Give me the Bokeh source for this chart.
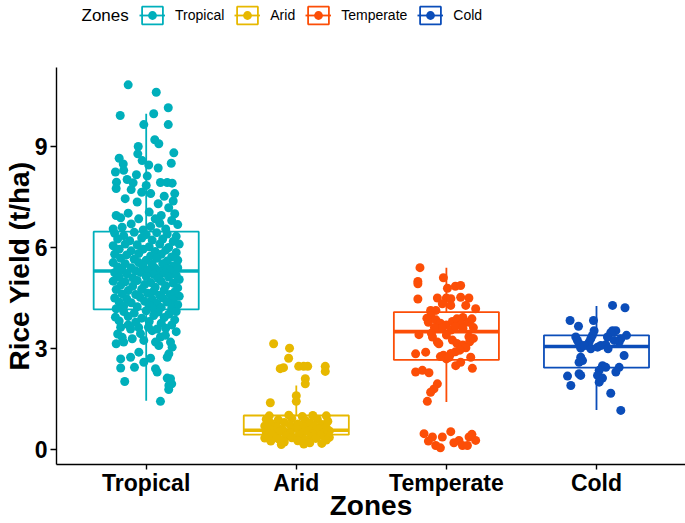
from bokeh.plotting import figure
from bokeh.layouts import column
from bokeh.models import FixedTicker, Legend, LegendItem, ColumnDataSource, Label
from bokeh.embed import file_html
from bokeh.resources import INLINE

# ---------------- data ----------------
zones = ["Tropical", "Arid", "Temperate", "Cold"]
zone_pos = [1, 2, 3, 4]
zone_colors = ["#00AFBB", "#E7B800", "#FC4E07", "#0B4DB9"]
legend_title = "Zones"

# box-plot statistics (t/ha)
box_q1 = [4.16, 0.44, 2.66, 2.43]
box_median = [5.30, 0.57, 3.50, 3.06]
box_q3 = [6.47, 1.01, 4.08, 3.39]
whisker_low = [1.45, 0.15, 1.41, 1.17]
whisker_high = [9.97, 1.90, 5.40, 4.26]

# jittered observations: (horizontal jitter, yield)
tropical_pts = [
    (-0.12, 10.83), (0.067, 10.61), (-0.173, 9.92), (0.05, 9.97), (0.147, 10.15), (-0.016, 9.65),
    (0.147, 9.65), (0.057, 9.20), (0.084, 9.08), (-0.053, 9.0), (0.184, 8.81), (-0.18, 8.65),
    (-0.056, 8.78), (-0.027, 8.58), (0.017, 8.45), (-0.153, 8.48), (0.167, 8.50), (-0.205, 8.24),
    (-0.15, 8.29), (-0.065, 8.16), (0.08, 8.36), (0.007, 8.12), (-0.198, 7.94), (-0.127, 8.02),
    (-0.087, 7.92), (0.095, 7.93), (0.14, 7.93), (0.173, 7.91), (0.0, 7.84),
    (-0.2, 7.75), (-0.1, 7.72), (-0.03, 7.64), (0.03, 7.6), (0.19, 7.6), (0.18, 7.38), (0.12, 7.52),
    (0.08, 7.3), (-0.14, 7.45), (-0.06, 7.35), (0.15, 7.18),
    (-0.2, 6.95), (-0.17, 6.88), (-0.12, 7.02), (-0.05, 6.85), (0.02, 7.05), (0.1, 6.95), (0.19, 7.0),
    (0.17, 6.8), (0.09, 6.72), (-0.1, 6.7), (0.03, 6.62), (-0.16, 6.6), (0.13, 6.55), (0.21, 6.68),
    (-0.02, 6.52), (-0.22, 6.55), (0.06, 6.85),
    (-0.21, 6.42), (-0.15, 6.35), (-0.08, 6.45), (0.0, 6.38), (0.07, 6.44), (0.14, 6.40), (0.2, 6.33),
    (-0.19, 6.25), (-0.11, 6.2), (-0.03, 6.28), (0.04, 6.22), (0.11, 6.25), (0.18, 6.18), (0.22, 6.1),
    (-0.22, 6.05), (-0.14, 6.1), (-0.06, 6.08), (0.02, 6.02), (0.09, 6.1), (0.15, 6.0),
    (-0.18, 5.95), (-0.1, 5.9), (-0.02, 5.95), (0.06, 5.88), (0.13, 5.92), (0.2, 5.85),
    (-0.21, 5.8), (-0.13, 5.78), (-0.05, 5.82), (0.03, 5.75), (0.1, 5.8), (0.17, 5.72),
    (-0.17, 5.68), (-0.08, 5.65), (0.0, 5.62), (0.07, 5.68), (0.14, 5.6), (0.21, 5.62),
    (-0.22, 5.55), (-0.14, 5.52), (-0.05, 5.55), (0.04, 5.5), (0.11, 5.52), (0.18, 5.45),
    (-0.19, 5.42), (-0.1, 5.4), (-0.02, 5.44), (0.06, 5.38), (0.14, 5.36), (0.21, 5.4),
    (-0.16, 5.33), (-0.07, 5.31), (0.01, 5.32), (0.09, 5.3), (0.16, 5.31),
    (-0.21, 5.25), (-0.13, 5.22), (-0.04, 5.26), (0.05, 5.2), (0.12, 5.24), (0.2, 5.18),
    (-0.18, 5.12), (-0.09, 5.1), (0.0, 5.14), (0.08, 5.08), (0.15, 5.12), (0.22, 5.05),
    (-0.22, 5.0), (-0.14, 4.98), (-0.06, 5.02), (0.03, 4.96), (0.1, 5.0), (0.18, 4.94),
    (-0.17, 4.88), (-0.09, 4.85), (-0.01, 4.9), (0.06, 4.82), (0.13, 4.86), (0.21, 4.8),
    (-0.2, 4.75), (-0.12, 4.72), (-0.03, 4.76), (0.05, 4.7), (0.12, 4.74), (0.19, 4.68),
    (-0.16, 4.62), (-0.07, 4.6), (0.01, 4.64), (0.09, 4.58), (0.16, 4.6), (0.22, 4.55),
    (-0.21, 4.5), (-0.13, 4.48), (-0.04, 4.52), (0.04, 4.46), (0.11, 4.5), (0.18, 4.44),
    (-0.18, 4.38), (-0.1, 4.36), (-0.01, 4.4), (0.07, 4.34), (0.14, 4.38), (0.21, 4.3),
    (-0.15, 4.26), (-0.06, 4.24), (0.02, 4.28), (0.1, 4.22), (0.17, 4.2), (-0.2, 4.18), (0.05, 4.17),
    (-0.15, 4.1), (-0.08, 4.05), (0.0, 4.12), (0.08, 4.08), (0.15, 4.02), (0.2, 4.1), (-0.12, 3.95),
    (-0.03, 3.9), (0.05, 3.98), (0.12, 3.92), (0.19, 3.85), (-0.18, 3.82), (-0.07, 3.78), (0.02, 3.8),
    (0.1, 3.75), (0.17, 3.7), (-0.12, 3.7), (0.2, 3.5), (-0.05, 3.62), (0.13, 3.6),
    (-0.205, 3.93), (-0.17, 3.63), (-0.19, 3.43), (-0.16, 3.33), (-0.2, 3.14), (-0.15, 3.19),
    (-0.104, 3.58), (-0.093, 3.29), (-0.038, 3.44), (-0.016, 3.24), (0.015, 3.63), (0.04, 3.53),
    (0.073, 3.58), (0.095, 3.34), (0.128, 3.39), (0.162, 3.19), (0.173, 3.04), (0.151, 2.84),
    (0.14, 2.74), (0.062, 3.19), (0.084, 3.09), (-0.17, 2.69), (-0.104, 2.74), (-0.049, 2.89),
    (-0.17, 2.42), (-0.078, 2.44), (-0.016, 2.59), (0.029, 2.71), (0.062, 2.40), (0.073, 2.30),
    (0.14, 2.12), (0.162, 2.10), (0.151, 1.90), (-0.143, 2.02), (0.095, 1.43), (0.15, 1.78), (0.17, 1.95),
]

arid_pts = [
    (-0.151, 3.14), (-0.045, 3.01), (-0.051, 2.71), (-0.107, 2.40), (-0.085, 2.43), (0.016, 2.47),
    (0.049, 2.47), (0.076, 2.47), (0.193, 2.47), (0.193, 2.32), (0.06, 2.10), (0.06, 1.95),
    (0.0, 1.60), (0.0, 1.43), (-0.173, 1.39),
    (-0.18, 1.0), (-0.05, 1.02), (0.04, 0.98), (0.11, 1.01), (0.2, 1.0),
    (-0.2, 0.9), (-0.12, 0.88), (-0.03, 0.92), (0.06, 0.86), (0.14, 0.9), (0.21, 0.84),
    (-0.17, 0.78), (-0.08, 0.8), (0.01, 0.76), (0.09, 0.79), (0.17, 0.74),
    (-0.21, 0.7), (-0.13, 0.68), (-0.04, 0.72), (0.05, 0.66), (0.12, 0.7), (0.2, 0.65),
    (-0.18, 0.6), (-0.09, 0.58), (0.0, 0.62), (0.08, 0.56), (0.15, 0.6), (0.22, 0.55),
    (-0.2, 0.5), (-0.12, 0.52), (-0.04, 0.48), (0.04, 0.5), (0.11, 0.46), (0.18, 0.5),
    (-0.16, 0.42), (-0.07, 0.4), (0.02, 0.44), (0.1, 0.38), (0.16, 0.42), (0.22, 0.36),
    (-0.21, 0.34), (-0.12, 0.32), (-0.03, 0.35), (0.06, 0.3), (0.13, 0.33), (0.2, 0.28),
    (-0.17, 0.25), (-0.08, 0.22), (0.01, 0.26), (0.09, 0.2), (0.17, 0.18), (-0.1, 0.15), (0.05, 0.16),
]

temperate_pts = [
    (-0.176, 5.40), (-0.02, 5.10), (-0.19, 4.99), (-0.19, 4.92), (0.007, 4.79), (0.06, 4.85),
    (0.095, 4.87), (-0.19, 4.47), (-0.06, 4.5), (0.0, 4.5), (0.03, 4.48), (0.095, 4.52), (0.15, 4.5),
    (-0.027, 4.33), (0.029, 4.28), (0.129, 4.28), (0.195, 4.18), (-0.105, 4.13), (-0.07, 4.13),
    (-0.105, 3.98),
    (-0.13, 3.9), (-0.12, 3.78), (-0.07, 3.85), (-0.04, 3.75), (0.0, 3.7), (0.04, 3.8), (0.07, 3.88),
    (0.11, 3.92), (0.1, 3.72), (0.15, 3.78), (0.17, 3.88), (-0.03, 3.6), (0.03, 3.55), (0.06, 3.65),
    (0.11, 3.6), (0.18, 3.62), (-0.08, 3.62),
    (-0.183, 3.41), (-0.093, 3.34), (-0.06, 3.19), (-0.05, 3.14), (0.04, 3.25), (0.07, 3.15),
    (0.11, 3.1), (0.155, 3.2), (0.13, 3.02), (0.09, 2.95), (0.06, 2.9), (0.03, 2.85), (-0.02, 2.8),
    (-0.04, 2.76), (0.15, 3.35), (0.18, 3.3), (-0.1, 3.45), (0.0, 3.4),
    (-0.205, 2.84), (-0.138, 2.89), (0.062, 2.49), (0.173, 2.41), (0.095, 2.59), (0.162, 2.74),
    (0.0, 2.69), (0.018, 2.74), (-0.205, 2.30), (-0.16, 2.35), (-0.116, 2.28), (-0.06, 1.95),
    (-0.083, 1.80), (-0.105, 1.70), (-0.127, 1.43),
    (-0.149, 0.47), (-0.093, 0.37), (-0.071, 0.12), (-0.027, 0.37), (0.029, 0.53), (0.084, 0.27),
    (0.107, 0.12), (0.151, 0.37), (0.195, 0.27), (0.14, 0.12), (-0.12, 0.25), (0.05, 0.2),
    (-0.04, 0.05), (0.17, 0.45),
]

cold_pts = [
    (0.107, 4.28), (0.19, 4.21), (-0.176, 3.83), (-0.02, 3.83), (-0.12, 3.66),
    (-0.016, 3.53), (-0.027, 3.39), (-0.038, 3.29), (-0.049, 3.19), (-0.06, 3.09), (0.107, 3.53),
    (0.129, 3.53), (0.095, 3.47), (0.073, 3.34), (0.2, 3.39), (0.162, 3.29), (0.151, 3.19),
    (-0.138, 3.34), (-0.127, 3.24), (-0.116, 3.14), (-0.105, 3.01), (-0.083, 3.09), (-0.038, 2.99),
    (0.007, 3.04), (0.029, 3.09), (0.062, 3.11), (0.077, 2.99), (0.118, 3.24), (0.184, 2.79),
    (-0.105, 2.74), (-0.093, 2.64), (-0.116, 2.59), (0.04, 2.49), (0.062, 2.44), (0.151, 2.44),
    (0.018, 2.35), (0.129, 2.30), (-0.193, 2.18), (-0.116, 2.25), (-0.105, 2.20), (0.007, 2.20),
    (0.04, 2.12), (0.018, 2.0), (-0.171, 1.90), (0.095, 1.67), (0.162, 1.16),
]

zone_points = [tropical_pts, arid_pts, temperate_pts, cold_pts]
y_ticks = [0, 3, 6, 9]

# ---------------- styles / layout ----------------
FONT = "Liberation Sans"
BOX_HALF = 0.35
W, H_LEG, H_MAIN = 685, 67, 456
LEFT = 56  # left border of the chart (the legend strip's frame is aligned to it)
BOX_STYLE = dict(fill_color="white", line_width=1.8)
MED_WIDTH = 3.6
NAN = float("nan")

# ---------------- main chart ----------------
p = figure(width=W, height=H_MAIN, x_range=(0.4024, 4.593), y_range=(-0.4455, 11.345),
           output_backend="svg", toolbar_location=None,
           min_border_left=LEFT, min_border_right=0, min_border_top=0, min_border_bottom=59)
p.outline_line_color = None
p.xgrid.visible = False
p.ygrid.visible = False
p.background_fill_color = "white"

for i, z in enumerate(zones):
    c = zone_colors[i]
    x = zone_pos[i]
    src = ColumnDataSource(dict(x=[x], l=[x - BOX_HALF], r=[x + BOX_HALF],
                                q1=[box_q1[i]], q3=[box_q3[i]], med=[box_median[i]],
                                lo=[whisker_low[i]], hi=[whisker_high[i]]))
    p.segment(x0="x", y0="q3", x1="x", y1="hi", source=src, line_color=c, line_width=1.8)
    p.segment(x0="x", y0="lo", x1="x", y1="q1", source=src, line_color=c, line_width=1.8)
    p.quad(left="l", right="r", bottom="q1", top="q3", source=src, line_color=c, **BOX_STYLE)
    p.segment(x0="l", y0="med", x1="r", y1="med", source=src, line_color=c, line_width=MED_WIDTH)

for i, z in enumerate(zones):
    pts = zone_points[i]
    xs = [zone_pos[i] + d for d, _ in pts]
    ys = [v for _, v in pts]
    p.scatter(x=xs, y=ys, size=9, fill_color=zone_colors[i],
              line_color=zone_colors[i], line_width=0)

p.xaxis.ticker = FixedTicker(ticks=zone_pos)
p.xaxis.major_label_overrides = {zp: z for zp, z in zip(zone_pos, zones)}
p.yaxis.ticker = FixedTicker(ticks=y_ticks)
for ax in (p.xaxis, p.yaxis):
    ax.axis_line_color = "black"
    ax.axis_line_width = 1.4
    ax.major_tick_line_color = "black"
    ax.major_tick_line_width = 1.4
    ax.major_tick_in = 0
    ax.minor_tick_line_color = None
    ax.major_label_text_font = FONT
    ax.major_label_text_font_style = "bold"
    ax.major_label_text_font_size = "23px"
    ax.major_label_text_color = "black"
    ax.axis_label_text_font = FONT
    ax.axis_label_text_font_style = "bold"
    ax.axis_label_text_font_size = "28px"
    ax.axis_label_text_color = "black"
p.xaxis.major_tick_out = 5
p.xaxis.major_label_standoff = 0
p.xaxis.axis_label = "Zones"
p.xaxis.axis_label_standoff = -9
p.yaxis.major_tick_out = 6
p.yaxis.major_label_standoff = 3
p.yaxis.axis_label = "Rice Yield (t/ha)"
p.yaxis.axis_label_standoff = -3

# ---------------- legend strip (pixel-unit canvas above the chart) ----------------
lg = figure(width=W, height=H_LEG, x_range=(LEFT, W), y_range=(0, H_LEG),
            x_axis_type=None, y_axis_type=None, output_backend="svg", toolbar_location=None,
            min_border_left=LEFT, min_border_right=0, min_border_top=0, min_border_bottom=0)
lg.outline_line_color = None
lg.background_fill_color = "white"

items = []
for i, z in enumerate(zones):
    c = zone_colors[i]
    key = ColumnDataSource(dict(l=[NAN], r=[NAN], b=[NAN], t=[NAN], x0=[NAN], y0=[NAN],
                                x1=[NAN], y1=[NAN], x=[NAN], y=[NAN]))
    q = lg.quad(left="l", right="r", bottom="b", top="t", source=key, line_color=c, **BOX_STYLE)
    s = lg.segment(x0="x0", y0="y0", x1="x1", y1="y1", source=key, line_color=c, line_width=1.8)
    d = lg.scatter(x="x", y="y", source=key, fill_color=c, line_color=c, line_width=0)
    items.append(LegendItem(label=z, renderers=[q, s, d]))

legend = Legend(items=items, orientation="horizontal", location=(139 - LEFT, 41),
                glyph_width=26, glyph_height=22, label_height=22,
                label_standoff=10, spacing=10, padding=0, margin=0,
                border_line_color=None, background_fill_alpha=0,
                label_text_font=FONT, label_text_font_size="14px", label_text_color="black")
lg.add_layout(legend, "center")
lg.add_layout(Label(x=81, y=52, text=legend_title, text_font=FONT, text_font_size="17px",
                    text_color="black", text_baseline="middle", text_align="left"))

layout = column(lg, p, spacing=0)
open("out.html", "w").write(file_html(layout, INLINE))
